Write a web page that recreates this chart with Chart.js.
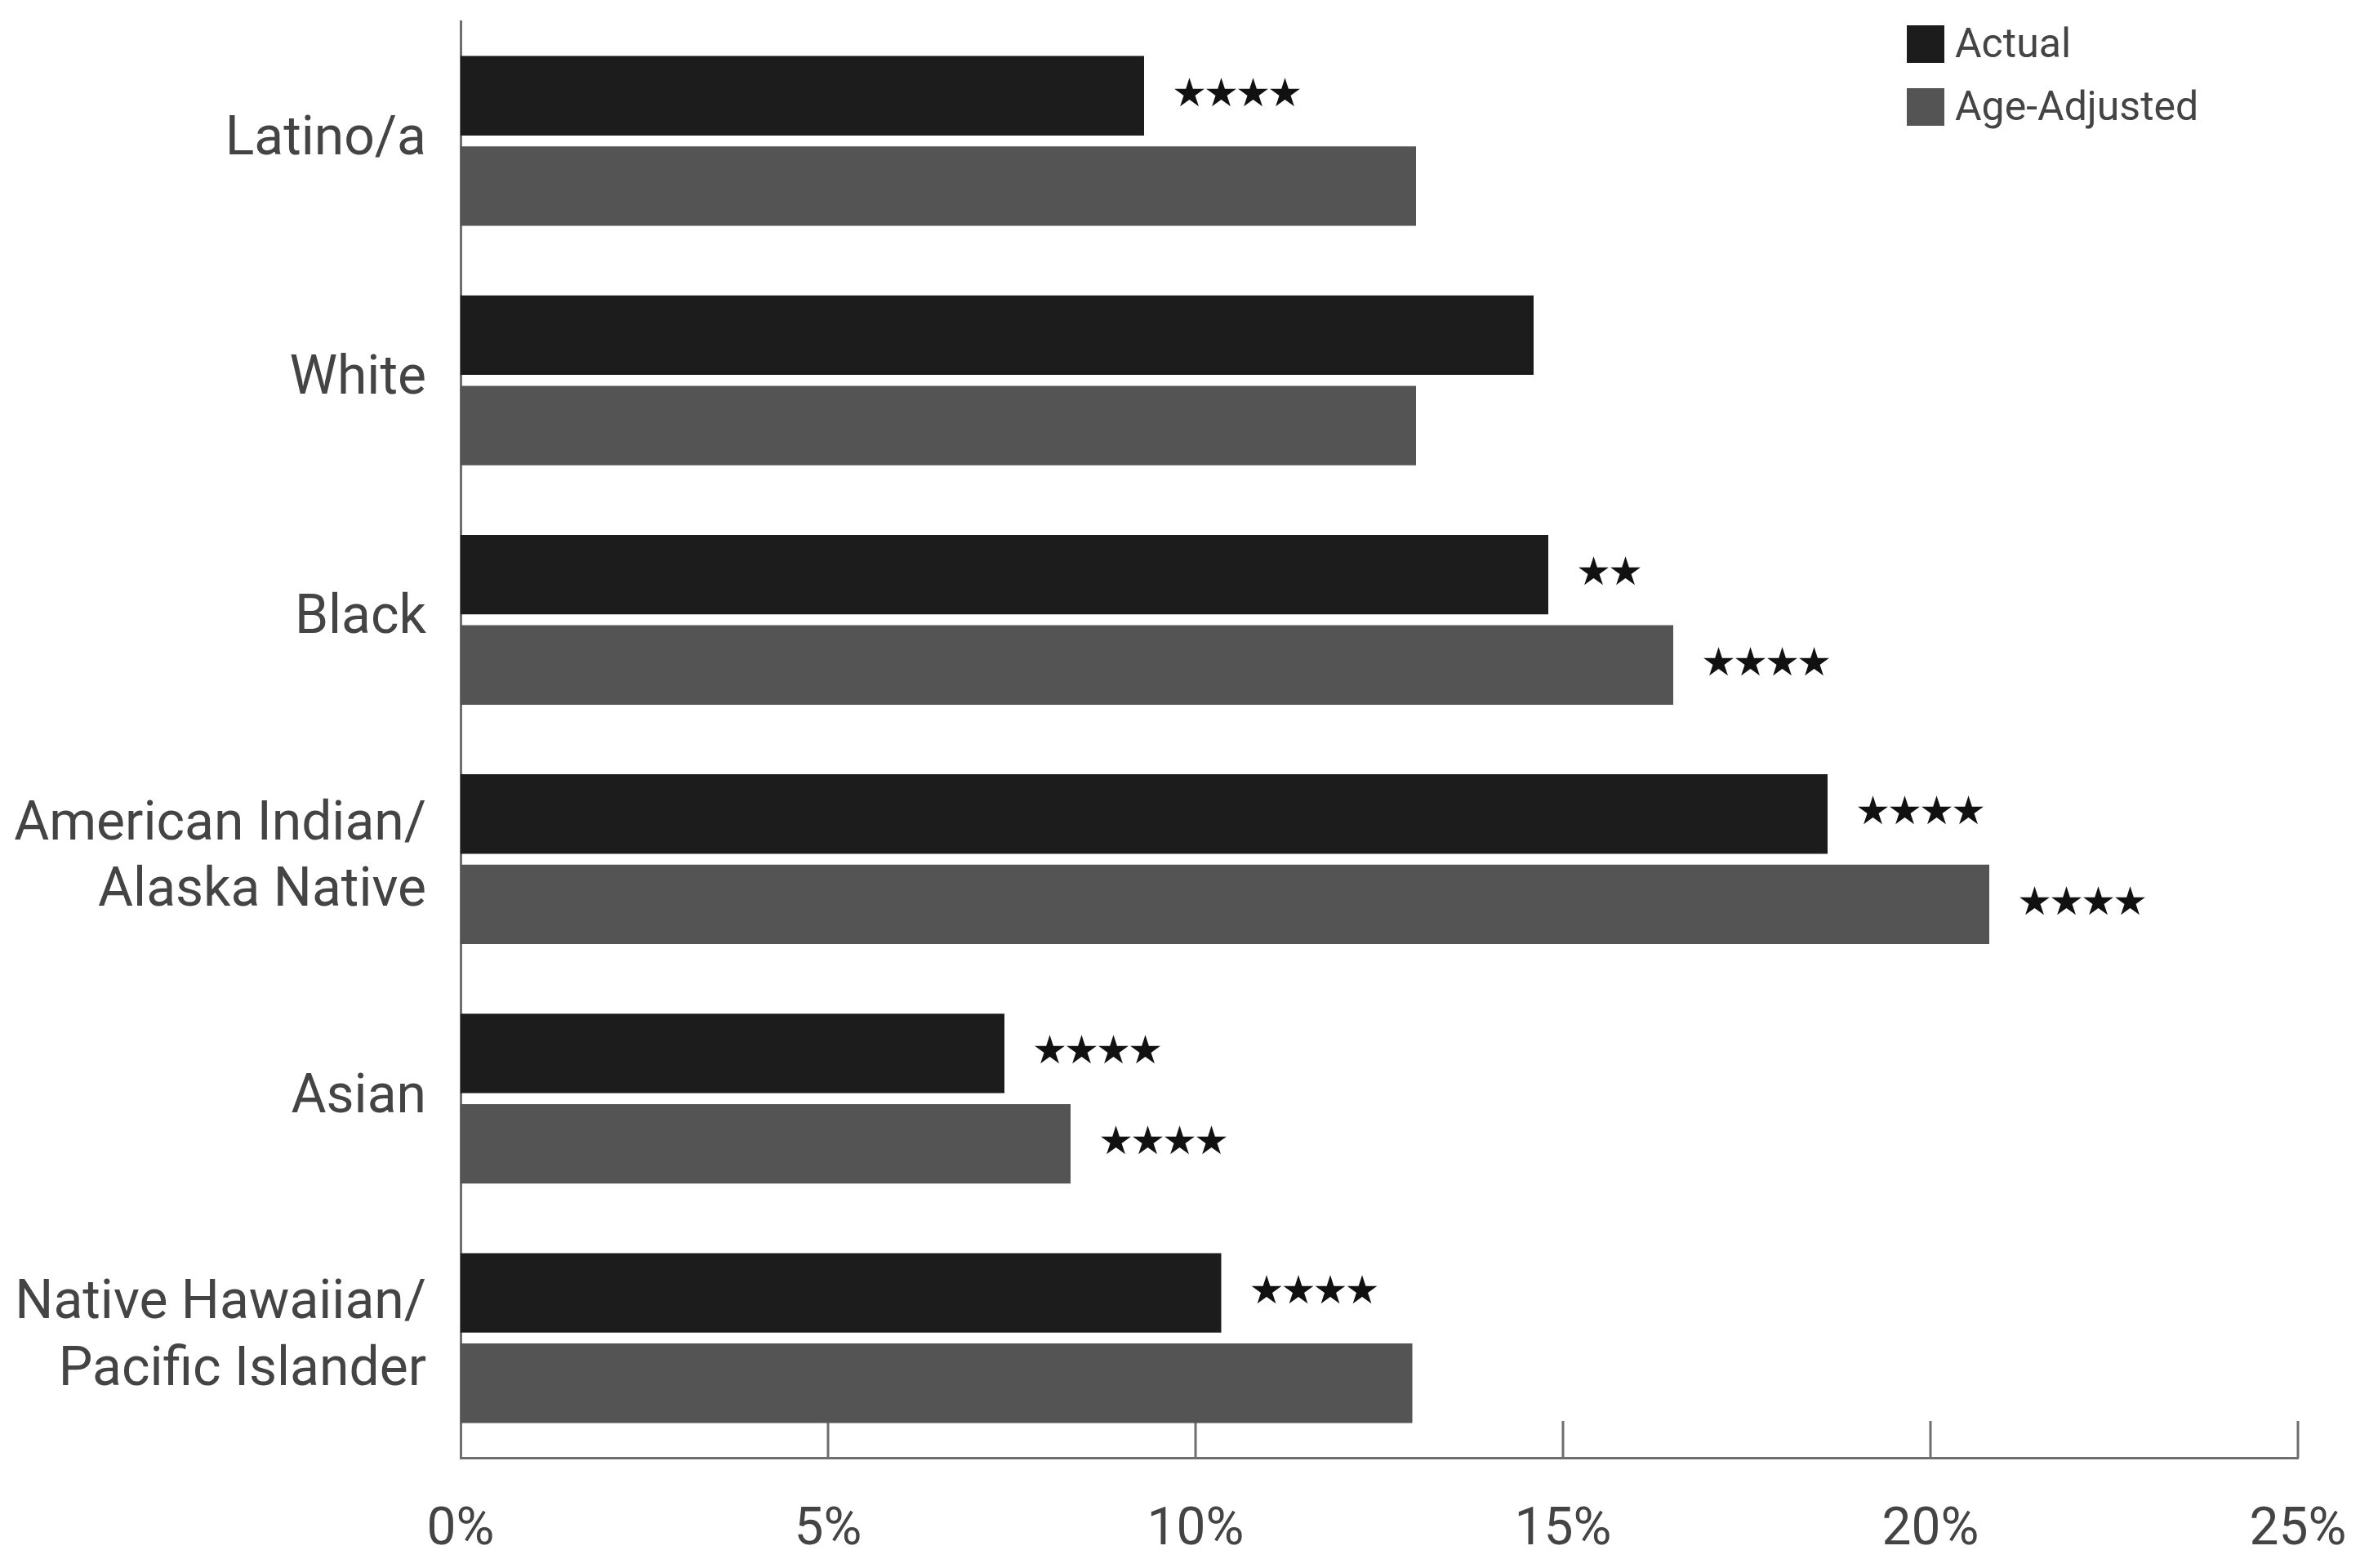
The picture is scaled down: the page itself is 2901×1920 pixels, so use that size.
<!DOCTYPE html>
<html>
<head>
<meta charset="utf-8">
<script src="https://cdn.jsdelivr.net/npm/chart.js@4.4.1/dist/chart.umd.min.js"></script>
<style>
  html, body { margin: 0; padding: 0; background: #fff; }
  canvas { display: block; }
</style>
</head>
<body>
<canvas id="chart" width="2901" height="1920"></canvas>
<script>
const categories = [
  'Latino/a',
  'White',
  'Black',
  ['American Indian/', 'Alaska Native'],
  'Asian',
  ['Native Hawaiian/', 'Pacific Islander'],
];
const actualValues = [9.3, 14.6, 14.8, 18.6, 7.4, 10.35];
const ageAdjustedValues = [13.0, 13.0, 16.5, 20.8, 8.3, 12.95];
// significance stars next to each bar
const actualStars = ['★★★★', '', '★★', '★★★★', '★★★★', '★★★★'];
const ageAdjustedStars = ['', '', '★★★★', '★★★★', '★★★★', ''];
const xTicks = [0, 5, 10, 15, 20, 25];

const textColor = '#444444';
const axisColor = '#6e6e6e';

const innerTicks = {
  id: 'innerTicks',
  beforeDatasetsDraw(chart) {
    const { ctx, scales: { x }, chartArea } = chart;
    ctx.save();
    ctx.strokeStyle = axisColor;
    ctx.lineWidth = 3;
    xTicks.slice(1).forEach((v) => {
      const px = Math.round(x.getPixelForValue(v));
      ctx.beginPath();
      ctx.moveTo(px, chartArea.bottom);
      ctx.lineTo(px, chartArea.bottom - 45);
      ctx.stroke();
    });
    ctx.restore();
  },
};

const starLabels = {
  id: 'starLabels',
  afterDatasetsDraw(chart) {
    const { ctx } = chart;
    const starSets = [actualStars, ageAdjustedStars];
    ctx.save();
    ctx.fillStyle = '#111';
    ctx.font = '48px "DejaVu Sans"';
    ctx.textBaseline = 'middle';
    ctx.textAlign = 'left';
    starSets.forEach((stars, di) => {
      const meta = chart.getDatasetMeta(di);
      meta.data.forEach((bar, i) => {
        const s = stars[i];
        for (let k = 0; k < s.length; k++) {
          ctx.fillText(s[k], bar.x + 34 + k * 39, bar.y);
        }
      });
    });
    ctx.restore();
  },
};

const boxLegend = {
  id: 'boxLegend',
  afterDraw(chart) {
    const { ctx } = chart;
    ctx.save();
    ctx.font = '50px Roboto';
    ctx.textBaseline = 'middle';
    chart.data.datasets.forEach((ds, i) => {
      const y = 31 + i * 77;
      ctx.fillStyle = ds.backgroundColor;
      ctx.fillRect(2335, y, 46, 46);
      ctx.fillStyle = textColor;
      ctx.fillText(ds.label, 2394, y + 26);
    });
    ctx.restore();
  },
};

new Chart(document.getElementById('chart'), {
  type: 'bar',
  data: {
    labels: categories,
    datasets: [
      {
        label: 'Actual',
        data: actualValues,
        backgroundColor: '#1c1c1c',
        categoryPercentage: 0.755,
        barPercentage: 0.88,
      },
      {
        label: 'Age-Adjusted',
        data: ageAdjustedValues,
        backgroundColor: '#545454',
        categoryPercentage: 0.755,
        barPercentage: 0.88,
      },
    ],
  },
  options: {
    indexAxis: 'y',
    responsive: false,
    animation: false,
    devicePixelRatio: 1,
    layout: { padding: { top: 26, right: 87, left: 0, bottom: 0 } },
    plugins: {
      legend: { display: false },
      tooltip: { enabled: false },
    },
    scales: {
      x: {
        min: 0,
        max: 25,
        afterFit: (scale) => {
          scale.height = 135;
          scale.paddingLeft = 0;
          scale.paddingRight = 0;
        },
        afterBuildTicks: (scale) => { scale.ticks = xTicks.map((v) => ({ value: v })); },
        grid: { display: false, drawTicks: false },
        border: { display: true, color: axisColor, width: 3 },
        ticks: {
          padding: 52,
          color: textColor,
          font: { family: 'Roboto', size: 64 },
          callback: (v) => v + '%',
        },
      },
      y: {
        afterFit: (scale) => {
          scale.width = 564;
          scale.paddingTop = 0;
          scale.paddingBottom = 0;
        },
        grid: { display: false, drawTicks: false },
        border: { display: true, color: axisColor, width: 3 },
        ticks: {
          padding: 42,
          color: textColor,
          font: { family: 'Roboto', size: 66, lineHeight: 1.23 },
        },
      },
    },
  },
  plugins: [innerTicks, starLabels, boxLegend],
});
</script>
</body>
</html>
